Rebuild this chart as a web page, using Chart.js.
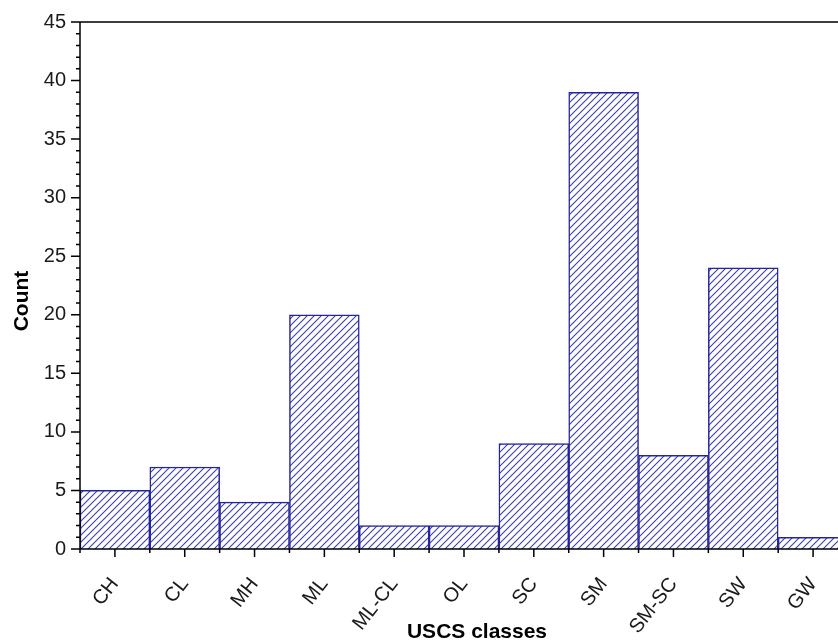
<!DOCTYPE html>
<html>
<head>
<meta charset="utf-8">
<script src="https://cdn.jsdelivr.net/npm/chart.js@4/dist/chart.umd.min.js"></script>
<style>
  html, body { margin: 0; padding: 0; background: #fff; overflow: hidden; }
  #wrap { position: absolute; left: 0; top: 0; width: 860px; height: 642px; }
</style>
</head>
<body>
<div id="wrap"><canvas id="myChart"></canvas></div>
<script>
// data
const categories = ['CH', 'CL', 'MH', 'ML', 'ML-CL', 'OL', 'SC', 'SM', 'SM-SC', 'SW', 'GW'];
const counts = [5, 7, 4, 20, 2, 2, 9, 39, 8, 24, 1];
const yMin = 0;
const yMax = 45;
const yStep = 5;

const navy = '#25259a';
const fontFamily = "'Liberation Sans', Arial, sans-serif";

// diagonal hatch fill
function makeHatch() {
    const s = 7;
    const c = document.createElement('canvas');
    c.width = s; c.height = s;
    const g = c.getContext('2d');
    g.fillStyle = '#fff';
    g.fillRect(0, 0, s, s);
    g.strokeStyle = '#3d3db8';
    g.lineWidth = 1.1;
    g.beginPath();
    g.moveTo(-1, s + 1); g.lineTo(s + 1, -1);
    g.moveTo(-1, 1); g.lineTo(1, -1);
    g.moveTo(s - 1, s + 1); g.lineTo(s + 1, s - 1);
    g.stroke();
    return g.createPattern(c, 'repeat');
}

// axis lines, minor ticks and axis titles
const axesPlugin = {
    id: 'axes',
    afterDatasetsDraw(chart) {
        const { ctx, chartArea: a, scales: { x, y } } = chart;
        ctx.save();
        ctx.strokeStyle = '#000';
        ctx.lineWidth = 1.5;
        ctx.beginPath();
        ctx.moveTo(a.left, a.bottom); ctx.lineTo(a.left, a.top); ctx.lineTo(chart.width, a.top);
        ctx.moveTo(a.left, a.bottom); ctx.lineTo(chart.width, a.bottom);
        for (let v = yMin; v <= yMax; v++) {
            const py = y.getPixelForValue(v);
            const len = v % yStep === 0 ? 9 : 4;
            ctx.moveTo(a.left - len, py); ctx.lineTo(a.left, py);
        }
        const half = (x.getPixelForValue(1) - x.getPixelForValue(0)) / 2;
        categories.forEach((c, i) => {
            const px = x.getPixelForValue(i);
            ctx.moveTo(px, a.bottom); ctx.lineTo(px, a.bottom + 8);
            ctx.moveTo(px - half, a.bottom); ctx.lineTo(px - half, a.bottom + 4);
        });
        ctx.stroke();

        ctx.fillStyle = '#000';
        ctx.font = 'bold 21px ' + fontFamily;
        ctx.textAlign = 'center';
        ctx.textBaseline = 'middle';
        ctx.fillText('USCS classes', 477, 632);
        ctx.translate(22, 301);
        ctx.rotate(-Math.PI / 2);
        ctx.fillText('Count', 0, 0);
        ctx.restore();
    }
};

function setup() {
    const ctx = document.getElementById('myChart').getContext('2d');
    new Chart(ctx, {
        type: 'bar',
        data: {
            labels: categories,
            datasets: [
                {
                    label: 'Count',
                    data: counts,
                    backgroundColor: makeHatch(),
                    borderColor: navy,
                    borderWidth: 1.5,
                    barPercentage: 1,
                    categoryPercentage: 1
                }
            ]
        },
        options: {
            responsive: true,
            maintainAspectRatio: false,
            animation: false,
            layout: { padding: { left: 0, top: 22, right: 12, bottom: 0 } },
            plugins: {
                legend: { display: false },
                tooltip: { enabled: false }
            },
            scales: {
                x: {
                    grid: { display: false, drawTicks: false },
                    border: { display: false },
                    ticks: {
                        minRotation: 52,
                        maxRotation: 52,
                        padding: 24,
                        color: '#1a1a1a',
                        font: { family: fontFamily, size: 20 }
                    },
                    afterFit(scale) {
                        scale.height = 93;
                        scale.paddingLeft = 0;
                        scale.paddingRight = 0;
                    }
                },
                y: {
                    min: yMin,
                    max: yMax,
                    grid: { display: false, drawTicks: false },
                    border: { display: false },
                    ticks: {
                        stepSize: yStep,
                        padding: 14,
                        color: '#1a1a1a',
                        font: { family: fontFamily, size: 20 }
                    },
                    afterFit(scale) {
                        scale.width = 80;
                        scale.paddingTop = 0;
                        scale.paddingBottom = 0;
                    }
                }
            }
        },
        plugins: [axesPlugin]
    });
}

window.addEventListener('load', setup);
</script>
</body>
</html>
